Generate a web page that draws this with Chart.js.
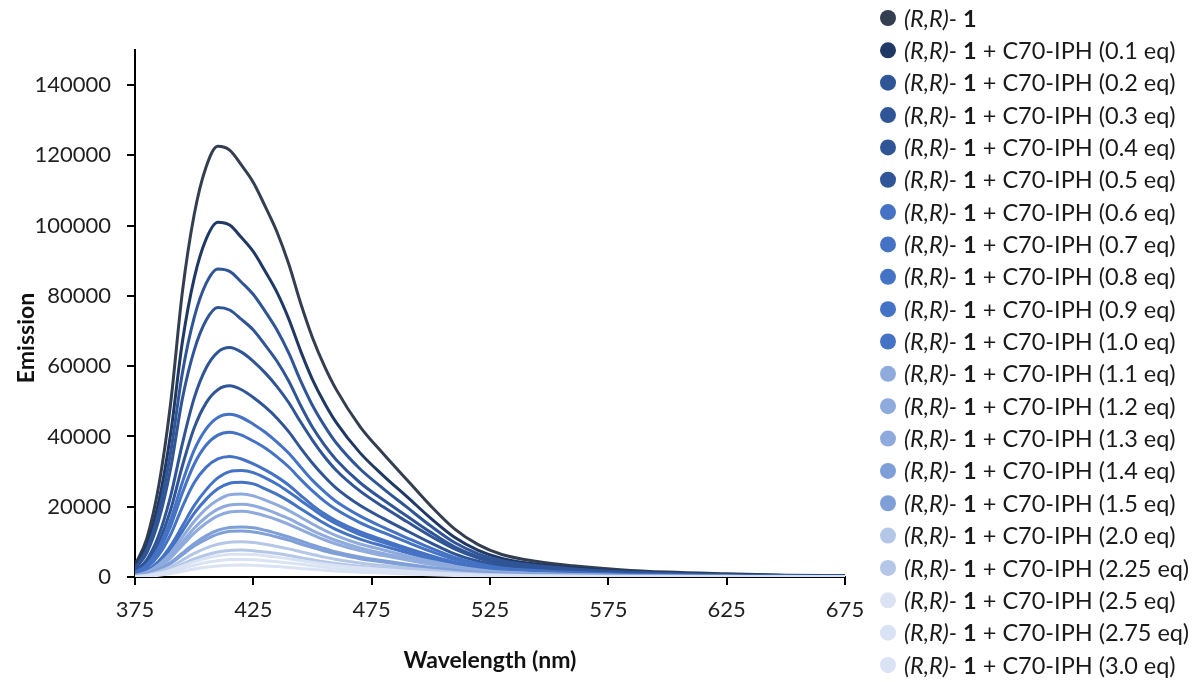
<!DOCTYPE html>
<html>
<head>
<meta charset="utf-8">
<script src="https://cdn.jsdelivr.net/npm/chart.js@4.4.0/dist/chart.umd.min.js"></script>
<style>
  html, body { margin: 0; padding: 0; background: #ffffff; }
  #wrap { width: 1197px; height: 682px; position: relative; }
</style>
</head>
<body>
<div id="wrap"><canvas id="c" width="1197" height="682"></canvas></div>
<script>
// Emission wavelengths (nm)
const wavelengths = [375, 380, 385, 390, 395, 400, 405, 410, 415, 420, 425, 430, 435, 440, 445, 450, 455, 460,
  470, 480, 490, 500, 510, 520, 530, 545, 560, 580, 600, 625, 650, 675];

// Equivalents of C70-IPH added ('' = free host)
const equivalents = ['', '0.1', '0.2', '0.3', '0.4', '0.5', '0.6', '0.7', '0.8', '0.9', '1.0',
  '1.1', '1.2', '1.3', '1.4', '1.5', '2.0', '2.25', '2.5', '2.75', '3.0'];

// Emission intensities for each titration step
const rr1   = [3400, 11000, 25800, 49100, 81000, 103100, 116600, 122600, 121500, 117200, 112300, 105500, 98200, 89000, 77900, 68100, 60100, 53400, 42900, 35000, 27600, 20200, 13700, 9200, 6400, 4400, 3200, 2100, 1400, 900, 500, 400];
const eq01  = [2800, 9100, 21300, 40500, 66800, 85000, 96100, 101000, 100200, 96600, 92600, 87000, 81000, 73400, 64300, 56200, 49600, 44000, 35400, 28800, 22800, 16700, 11300, 7600, 5300, 3600, 2600, 1700, 1100, 700, 400, 300];
const eq02  = [2500, 7900, 18500, 35200, 58000, 73800, 83500, 87700, 87000, 83900, 80400, 75600, 70300, 63700, 55800, 48800, 43100, 38200, 30800, 25100, 19800, 14500, 9800, 6600, 4600, 3200, 2300, 1500, 1000, 600, 400, 300];
const eq03  = [2200, 6900, 16100, 30700, 50700, 64500, 73000, 76700, 76000, 73300, 70300, 66000, 61400, 55700, 48800, 42600, 37600, 33400, 26900, 21900, 17300, 12700, 8600, 5800, 4000, 2800, 2000, 1300, 800, 500, 300, 200];
const eq04  = [1600, 4900, 11800, 22900, 37900, 50900, 59400, 64000, 65300, 64000, 61400, 58100, 54200, 49600, 44100, 38900, 34300, 30400, 24500, 19900, 15700, 11600, 8000, 5400, 3700, 2500, 1800, 1200, 800, 500, 300, 200];
const eq05  = [1400, 4100, 9800, 19000, 31600, 42400, 49500, 53300, 54400, 53300, 51100, 48400, 45200, 41300, 36700, 32400, 28600, 25300, 20400, 16600, 13100, 9700, 6600, 4500, 3100, 2100, 1500, 1000, 700, 400, 200, 200];
const eq06  = [1200, 3500, 8300, 16200, 26900, 36100, 42100, 45400, 46300, 45400, 43500, 41200, 38400, 35200, 31300, 27500, 24300, 21500, 17400, 14100, 11100, 8200, 5600, 3800, 2600, 1800, 1300, 800, 600, 300, 200, 100];
const eq07  = [1000, 3100, 7400, 14400, 23900, 32100, 37500, 40400, 41200, 40400, 38700, 36700, 34200, 31300, 27800, 24500, 21600, 19200, 15500, 12600, 9900, 7300, 5000, 3400, 2300, 1600, 1200, 700, 500, 300, 200, 100];
const eq08  = [900, 2600, 6200, 12000, 19900, 26800, 31200, 33600, 34300, 33600, 32200, 30500, 28500, 26100, 23200, 20400, 18000, 16000, 12900, 10500, 8200, 6100, 4200, 2800, 2000, 1300, 1000, 600, 400, 200, 100, 100];
const eq09  = [600, 1800, 4500, 8800, 14500, 20300, 24800, 28200, 30000, 30300, 29700, 28200, 26400, 24200, 21800, 19400, 17100, 15200, 12100, 9800, 7700, 5800, 3900, 2700, 1800, 1300, 900, 600, 400, 200, 200, 100];
const eq10  = [500, 1600, 4100, 7800, 13000, 18100, 22100, 25100, 26700, 27000, 26500, 25100, 23500, 21600, 19400, 17300, 15300, 13500, 10800, 8800, 6900, 5100, 3500, 2400, 1600, 1100, 800, 500, 400, 200, 100, 100];
const eq11  = [500, 1400, 3500, 6800, 11300, 15800, 19400, 21900, 23400, 23600, 23100, 21900, 20500, 18900, 17000, 15100, 13300, 11800, 9400, 7700, 6000, 4500, 3100, 2100, 1400, 1000, 700, 500, 300, 200, 100, 100];
const eq12  = [400, 1200, 3100, 6000, 9900, 13900, 17000, 19300, 20500, 20700, 20300, 19300, 18000, 16600, 14900, 13200, 11700, 10400, 8300, 6700, 5300, 3900, 2700, 1800, 1300, 900, 600, 400, 300, 200, 100, 100];
const eq13  = [400, 1100, 2800, 5400, 9000, 12500, 15300, 17400, 18500, 18700, 18300, 17400, 16300, 15000, 13500, 12000, 10600, 9400, 7500, 6100, 4800, 3600, 2400, 1600, 1100, 800, 600, 400, 200, 150, 100, 100];
const eq14  = [300, 900, 2100, 4100, 6800, 9500, 11700, 13300, 14100, 14250, 14000, 13300, 12400, 11400, 10300, 9100, 8100, 7100, 5700, 4600, 3600, 2700, 1900, 1300, 900, 600, 400, 300, 200, 100, 70, 60];
const eq15  = [300, 800, 2000, 3800, 6300, 8800, 10700, 12200, 13000, 13100, 12800, 12200, 11400, 10500, 9400, 8400, 7400, 6600, 5200, 4300, 3300, 2500, 1700, 1200, 800, 550, 400, 260, 170, 100, 70, 50];
const eq20  = [200, 600, 1500, 2900, 4800, 6700, 8200, 9300, 9900, 10000, 9800, 9300, 8700, 8000, 7200, 6400, 5650, 5000, 4000, 3250, 2550, 1900, 1300, 880, 610, 420, 300, 200, 130, 80, 50, 40];
const eq225 = [150, 460, 1150, 2220, 3670, 5130, 6270, 7110, 7570, 7650, 7500, 7110, 6660, 6120, 5510, 4900, 4320, 3830, 3060, 2490, 1950, 1450, 990, 670, 470, 320, 230, 150, 100, 60, 40, 30];
const eq25  = [130, 390, 980, 1890, 3120, 4360, 5330, 6050, 6440, 6500, 6370, 6050, 5660, 5200, 4680, 4160, 3670, 3250, 2600, 2110, 1660, 1240, 850, 570, 400, 270, 200, 130, 85, 50, 30, 30];
const eq275 = [100, 300, 750, 1450, 2400, 3350, 4100, 4650, 4950, 5000, 4900, 4650, 4350, 4000, 3600, 3200, 2830, 2500, 2000, 1630, 1280, 950, 650, 440, 310, 210, 150, 100, 65, 40, 25, 20];
const eq30  = [70, 200, 510, 990, 1630, 2280, 2790, 3160, 3370, 3400, 3330, 3160, 2960, 2720, 2450, 2180, 1920, 1700, 1360, 1110, 870, 650, 440, 300, 210, 140, 100, 70, 44, 30, 20, 10];

// Axis ticks
const xTicks = [375, 425, 475, 525, 575, 625, 675];
const yTicks = [0, 20000, 40000, 60000, 80000, 100000, 120000, 140000];

const seriesValues = [rr1, eq01, eq02, eq03, eq04, eq05, eq06, eq07, eq08, eq09, eq10,
  eq11, eq12, eq13, eq14, eq15, eq20, eq225, eq25, eq275, eq30];

const seriesColors = ['#333f50', '#1f3864',
  '#2f5597', '#2f5597', '#2f5597', '#2f5597',
  '#4472c4', '#4472c4', '#4472c4', '#4472c4', '#4472c4',
  '#8faadc', '#8faadc', '#8faadc', '#7f9fd9', '#7f9fd9',
  '#b4c7e7', '#b4c7e7',
  '#dae3f3', '#dae3f3', '#dae3f3'];

const FONT = 'Lato, "Open Sans", sans-serif';

const datasets = seriesValues.map((vals, i) => ({
  label: equivalents[i] === '' ? '(R,R)- 1' : '(R,R)- 1 + C70-IPH (' + equivalents[i] + ' eq)',
  data: vals.map((v, k) => ({ x: wavelengths[k], y: v })),
  borderColor: seriesColors[i],
  backgroundColor: seriesColors[i],
  borderWidth: 3,
  pointRadius: 0,
  cubicInterpolationMode: 'monotone',
  fill: false,
  order: seriesValues.length - i
}));

// Side legend with mixed italic / bold runs, plus rotated y-axis title
const sideLegend = {
  id: 'sideLegend',
  afterDraw(chart) {
    const ctx = chart.ctx;
    ctx.save();
    ctx.translate(27, 338);
    ctx.rotate(-Math.PI / 2);
    ctx.font = 'bold 23px ' + FONT;
    ctx.fillStyle = '#111111';
    ctx.textAlign = 'center';
    ctx.textBaseline = 'middle';
    ctx.fillText('Emission', 0, 0);
    ctx.restore();

    ctx.save();
    const size = 23.5;
    const cx = 888, top = 18, step = 32.35;
    ctx.textBaseline = 'middle';
    ctx.textAlign = 'left';
    chart.data.datasets.forEach((ds, i) => {
      const y = top + i * step;
      ctx.beginPath();
      ctx.arc(cx, y, 8, 0, Math.PI * 2);
      ctx.fillStyle = ds.borderColor;
      ctx.fill();
      const runs = [['(R,R)-', 'italic 400'], [' ', '400'], ['1', '700']];
      if (equivalents[i] !== '') runs.push([' + C70-IPH (' + equivalents[i] + ' eq)', '400']);
      let x = 904;
      ctx.fillStyle = '#1a1a1a';
      runs.forEach(([t, f]) => {
        ctx.font = f + ' ' + size + 'px ' + FONT;
        ctx.fillText(t, x, y + 1);
        x += ctx.measureText(t).width;
      });
    });
    ctx.restore();
  }
};

new Chart(document.getElementById('c'), {
  type: 'line',
  data: { datasets },
  options: {
    responsive: false,
    animation: false,
    layout: { padding: { left: 0, top: 50, right: 352, bottom: 0 } },
    plugins: { legend: { display: false }, tooltip: { enabled: false } },
    scales: {
      x: {
        type: 'linear',
        min: 375, max: 675,
        afterBuildTicks: s => { s.ticks = xTicks.map(v => ({ value: v })); },
        afterFit: s => { s.height = 682 - 577; },
        ticks: { font: { family: FONT, size: 22 }, color: '#1f1f1f', padding: 12, maxRotation: 0, autoSkip: false },
        grid: { display: true, drawOnChartArea: false, drawTicks: true, tickLength: 8, color: '#000000', lineWidth: 2 },
        border: { display: true, color: '#000000', width: 2 },
        title: { display: true, text: 'Wavelength (nm)', font: { family: FONT, size: 23, weight: 'bold' }, color: '#111111', padding: { top: 0, bottom: 8 } }
      },
      y: {
        type: 'linear',
        min: 0, max: 150000,
        afterBuildTicks: s => { s.ticks = yTicks.map(v => ({ value: v })); },
        afterFit: s => { s.width = 135; },
        ticks: { font: { family: FONT, size: 22 }, color: '#1f1f1f', padding: 16, autoSkip: false, callback: v => String(v) },
        grid: { display: true, drawOnChartArea: false, drawTicks: true, tickLength: 8, color: '#000000', lineWidth: 2 },
        border: { display: true, color: '#000000', width: 2 }
      }
    }
  },
  plugins: [sideLegend]
});
</script>
</body>
</html>
